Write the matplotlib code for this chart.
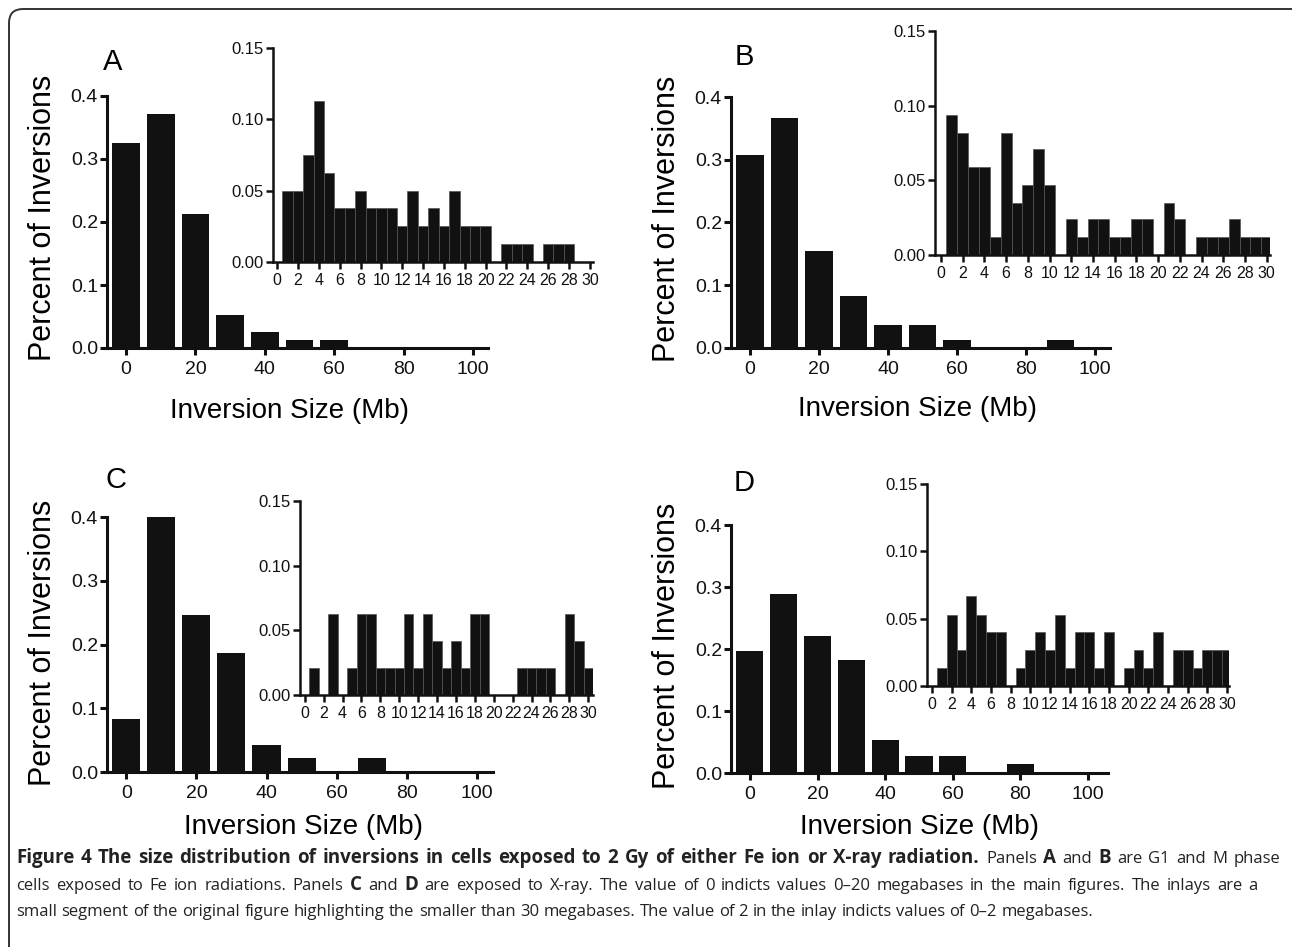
import matplotlib
matplotlib.use('Agg')
import matplotlib.pyplot as plt
from matplotlib.patches import FancyBboxPatch
from matplotlib.transforms import IdentityTransform

# main histograms: 10 Mb bins (label 0 = 0-20 Mb etc.)
main_x = [0, 10, 20, 30, 40, 50, 60, 70, 80, 90, 100]
A_main = [0.325, 0.372, 0.212, 0.052, 0.026, 0.013, 0.013, 0, 0, 0, 0]
B_main = [0.308, 0.366, 0.155, 0.083, 0.037, 0.037, 0.013, 0, 0, 0.013, 0]
C_main = [0.083, 0.400, 0.246, 0.186, 0.043, 0.022, 0, 0.022, 0, 0, 0]
D_main = [0.197, 0.289, 0.221, 0.183, 0.054, 0.027, 0.027, 0, 0.014, 0, 0]

# inlays: 1 Mb bins up to 30 Mb
inset_x = list(range(1, 31))
A_inset = [0.05, 0.05, 0.075, 0.1125, 0.0625, 0.0375, 0.0375, 0.05, 0.0375, 0.0375,
           0.0375, 0.025, 0.05, 0.025, 0.0375, 0.025, 0.05, 0.025, 0.025, 0.025,
           0, 0.0125, 0.0125, 0.0125, 0, 0.0125, 0.0125, 0.0125, 0, 0]
B_inset = [0.094, 0.082, 0.059, 0.059, 0.012, 0.082, 0.035, 0.047, 0.071, 0.047,
           0, 0.024, 0.012, 0.024, 0.024, 0.012, 0.012, 0.024, 0.024, 0,
           0.035, 0.024, 0, 0.012, 0.012, 0.012, 0.024, 0.012, 0.012, 0.012]
C_inset = [0.021, 0, 0.0625, 0, 0.021, 0.0625, 0.0625, 0.021, 0.021, 0.021,
           0.0625, 0.021, 0.0625, 0.042, 0.021, 0.042, 0.021, 0.0625, 0.0625, 0,
           0, 0, 0.021, 0.021, 0.021, 0.021, 0, 0.0625, 0.042, 0.021]
D_inset = [0.013, 0.053, 0.027, 0.067, 0.053, 0.04, 0.04, 0, 0.013, 0.027,
           0.04, 0.027, 0.053, 0.013, 0.04, 0.04, 0.013, 0.04, 0, 0.013,
           0.027, 0.013, 0.04, 0, 0.027, 0.027, 0.013, 0.027, 0.027, 0.027]

main_yticks = [0.0, 0.1, 0.2, 0.3, 0.4]
main_xticks = [0, 20, 40, 60, 80, 100]
inset_yticks = [0.0, 0.05, 0.10, 0.15]
inset_xticks = list(range(0, 31, 2))

W, H = 1292, 947
plt.rcParams['font.family'] = ['Liberation Sans', 'DejaVu Sans']
fig = plt.figure(figsize=(W / 100, H / 100), dpi=100)

# pixel boxes (left, top, right, bottom) measured off the page
panels = {
    'A': dict(main=(107, 96, 488, 348), mxlim=(-5.5, 104.3), data=A_main,
              inset=(273, 48, 593, 262), ixlim=(-0.4, 30.3), idata=A_inset,
              letter=(113, 62), ylab=(43, 218), xlab=(290, 411)),
    'B': dict(main=(731, 97, 1110, 348), mxlim=(-5.5, 104.3), data=B_main,
              inset=(935, 31, 1270, 255), ixlim=(-0.55, 30.3), idata=B_inset,
              letter=(744, 57), ylab=(667, 219), xlab=(918, 409)),
    'C': dict(main=(107, 517, 493, 772), mxlim=(-5.5, 104.6), data=C_main,
              inset=(300, 501, 593, 695), ixlim=(-0.5, 30.5), idata=C_inset,
              letter=(116, 480), ylab=(43, 643), xlab=(303, 827)),
    'D': dict(main=(731, 525, 1108, 773), mxlim=(-5.6, 105.9), data=D_main,
              inset=(927, 484, 1229, 686), ixlim=(-0.5, 30.2), idata=D_inset,
              letter=(744, 483), ylab=(667, 646), xlab=(920, 827)),
}


def px_axes(box):
    l, t, r, b = box
    return fig.add_axes([l / W, 1 - b / H, (r - l) / W, (b - t) / H])


def style(ax, lw, tlen, fsize, pad):
    for s in ['top', 'right']:
        ax.spines[s].set_visible(False)
    for s in ['left', 'bottom']:
        ax.spines[s].set_linewidth(lw)
        ax.spines[s].set_color('#111111')
    ax.tick_params(direction='out', length=tlen, width=lw, labelsize=fsize,
                   pad=pad, colors='#111111')
    ax.patch.set_alpha(0)


for name, p in panels.items():
    ax = px_axes(p['main'])
    ax.bar(main_x, p['data'], width=8, color='#111111', linewidth=0)
    ax.set_xlim(*p['mxlim'])
    ax.set_ylim(0, 0.4)
    ax.set_xticks(main_xticks)
    ax.set_yticks(main_yticks)
    ax.set_yticklabels(['%.1f' % v for v in main_yticks])
    style(ax, 2.2, 5, 14, 1.5)
    ax.tick_params(axis='x', pad=4)

    ins = px_axes(p['inset'])
    ins.bar(inset_x, p['idata'], width=1.0, color='#111111',
            edgecolor='#555555', linewidth=0.5)
    ins.set_xlim(*p['ixlim'])
    ins.set_ylim(0, 0.15)
    ins.set_xticks(inset_xticks)
    ins.set_yticks(inset_yticks)
    ins.set_yticklabels(['%.2f' % v for v in inset_yticks])
    style(ins, 1.8, 5, 12, 1.5)
    ins.tick_params(axis='x', labelsize=11.5, pad=3)

    fig.text(p['letter'][0] / W, 1 - p['letter'][1] / H, name, fontsize=21,
             ha='center', va='center')
    fig.text(p['ylab'][0] / W, 1 - p['ylab'][1] / H, 'Percent of Inversions',
             fontsize=22, rotation=90, ha='center', va='center')
    fig.text(p['xlab'][0] / W, 1 - p['xlab'][1] / H, 'Inversion Size (Mb)',
             fontsize=20, ha='center', va='center')

# rounded frame around the figure (runs off the right and bottom edges)
frame = FancyBboxPatch((9, -30), 1300, H - 9 + 30,
                       boxstyle='round,pad=0,rounding_size=14',
                       transform=IdentityTransform(), fill=False,
                       edgecolor='#333333', linewidth=1.4)
fig.patches.append(frame)

# caption, mixed bold / regular runs, first two lines stretched to the margin
caption = [
    [("Figure 4 The size distribution of inversions in cells exposed to 2 Gy "
      "of either Fe ion or X-ray radiation.", True), ("Panels", False),
     ("A", True), ("and", False), ("B", True), ("are G1 and M phase", False)],
    [("cells exposed to Fe ion radiations. Panels", False), ("C", True),
     ("and", False), ("D", True),
     ("are exposed to X-ray. The value of 0 indicts values 0\u201320 megabases "
      "in the main figures. The inlays are a", False)],
    [("small segment of the original figure highlighting the smaller than 30 "
      "megabases. The value of 2 in the inlay indicts values of 0\u20132 megabases.",
      False)],
]
baselines = [863, 890, 916]
line_right = [1280, 1258, None]
cap_left = 16
renderer = fig.canvas.get_renderer()
cap_font = dict(family=['Open Sans', 'DejaVu Sans'],
                ha='left', va='baseline', color='#222222')

probe = fig.text(0, 0, 'x x', fontsize=12, **cap_font)
space_w = probe.get_window_extent(renderer).width
probe.set_text('xx')
space_w -= probe.get_window_extent(renderer).width
probe.remove()

for line, yb, right in zip(caption, baselines, line_right):
    words = []
    for txt, bold in line:
        for w in txt.split():
            t = fig.text(0, 1 - yb / H, w, weight='bold' if bold else 'normal',
                         fontsize=13.5 if bold else 12, **cap_font)
            words.append((t, t.get_window_extent(renderer).width))
    total = sum(wd for _, wd in words)
    if right is not None:
        gap = (right - cap_left - total) / (len(words) - 1)
    else:
        gap = space_w
    x = cap_left
    for t, wd in words:
        t.set_x(x / W)
        x += wd + gap

fig.savefig('out.png', dpi=100)
